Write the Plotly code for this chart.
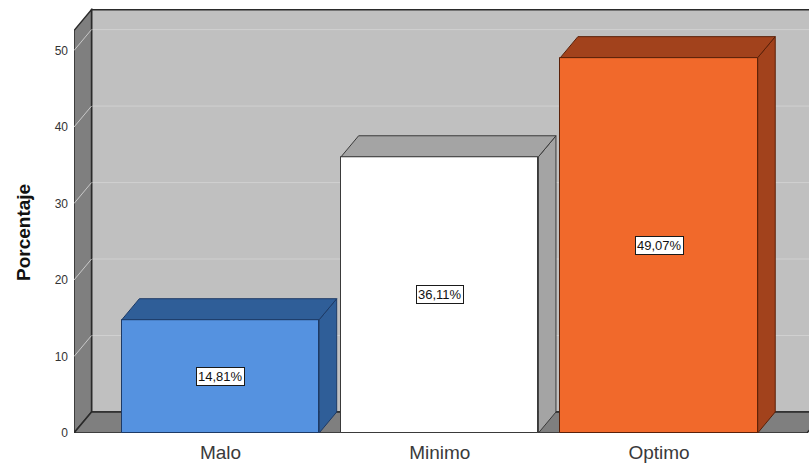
import plotly.graph_objects as go

# ---- data ----
categories = ["Malo", "Minimo", "Optimo"]
percentages = [14.81, 36.11, 49.07]
label_texts = ["14,81%", "36,11%", "49,07%"]
y_ticks = [0, 10, 20, 30, 40, 50]
y_title = "Porcentaje"

# ---- styles ----
front_colors = ["#5592e0", "#ffffff", "#f1692b"]
side_colors = ["#2f5e98", "#a4a4a4", "#a2421c"]
edge_colors = ["#1d3a66", "#3a3a3a", "#5a2008"]
wall_back = "#c0c0c0"
wall_side = "#7f7f7f"
grid_back = "#d0d0d0"
grid_side = "#c9c9c9"
outline = "#2a2a2a"
FONT = "Liberation Sans, Arial, sans-serif"

# ---- 3D geometry (data units) ----
X_RANGE = [-0.668, 2.684]
Y_RANGE = [0, 55.56]
BAR_W = 0.9
DX = 0.08
DY = 2.745
WALL_TOP = 52.6
FLOOR_RIGHT = 2.675

xpos = list(range(len(categories)))
xmin = X_RANGE[0]
xfar = X_RANGE[1] + 1.0

shapes = []
# back wall
shapes.append(dict(type="rect", xref="x", yref="y", x0=xmin + DX, x1=xfar, y0=DY, y1=WALL_TOP + DY,
                   fillcolor=wall_back, line=dict(color=outline, width=1.5), layer="below"))
# back wall gridlines
for v in y_ticks[1:]:
    shapes.append(dict(type="line", xref="x", yref="y", x0=xmin + DX, x1=xfar, y0=v + DY, y1=v + DY,
                       line=dict(color=grid_back, width=1), layer="below"))
# left wall
shapes.append(dict(type="path", xref="x", yref="y",
                   path=f"M {xmin},0 L {xmin},{WALL_TOP} L {xmin + DX},{WALL_TOP + DY} L {xmin + DX},{DY} Z",
                   fillcolor=wall_side, line=dict(color=outline, width=1.5), layer="below"))
# left wall gridlines
for v in y_ticks[1:]:
    shapes.append(dict(type="line", xref="x", yref="y", x0=xmin, x1=xmin + DX, y0=v, y1=v + DY,
                       line=dict(color=grid_side, width=1), layer="below"))
# floor
shapes.append(dict(type="path", xref="x", yref="y",
                   path=f"M {xmin},0 L {xmin + DX},{DY} L {xfar},{DY} L {FLOOR_RIGHT + DX},{DY} L {FLOOR_RIGHT},0 Z",
                   fillcolor=wall_side, line=dict(color=outline, width=1.5), layer="below"))

fig = go.Figure()

# side and top faces of bars
for i, v in enumerate(percentages):
    x0 = xpos[i] - BAR_W / 2
    x1 = xpos[i] + BAR_W / 2
    # side
    fig.add_trace(go.Scatter(
        x=[x1, x1, x1 + DX, x1 + DX, x1], y=[0, v, v + DY, DY, 0],
        mode="lines", fill="toself", fillcolor=side_colors[i],
        line=dict(color=edge_colors[i], width=1), hoverinfo="skip", showlegend=False))
    # top
    fig.add_trace(go.Scatter(
        x=[x0, x0 + DX, x1 + DX, x1, x0], y=[v, v + DY, v + DY, v, v],
        mode="lines", fill="toself", fillcolor=side_colors[i],
        line=dict(color=edge_colors[i], width=1), hoverinfo="skip", showlegend=False))

# front faces
fig.add_trace(go.Bar(
    x=xpos, y=percentages, width=BAR_W,
    marker=dict(color=front_colors, line=dict(color=edge_colors, width=1)),
    hoverinfo="skip", showlegend=False))

annotations = []
for i, v in enumerate(percentages):
    annotations.append(dict(x=xpos[i], y=v / 2, xref="x", yref="y", text=label_texts[i],
                            showarrow=False, bgcolor="white", bordercolor="#1a1a1a",
                            borderwidth=1, borderpad=1,
                            font=dict(family=FONT, size=13, color="#111111")))
annotations.append(dict(x=(23 - 74) / 735, y=(433 - 233) / 425, xref="paper", yref="paper",
                        text=f"<b>{y_title}</b>", textangle=-90, showarrow=False,
                        xanchor="center", yanchor="middle",
                        font=dict(family=FONT, size=19, color="#111111")))

fig.update_layout(
    width=809, height=464, autosize=False,
    margin=dict(l=74, r=0, t=8, b=31),
    paper_bgcolor="white", plot_bgcolor="white",
    shapes=shapes, annotations=annotations,
    bargap=0,
    xaxis=dict(range=X_RANGE, tickvals=xpos, ticktext=categories, showgrid=False, zeroline=False,
               showline=False, ticks="", tickfont=dict(family=FONT, size=19, color="#3a3a3a"),
               ticklabelstandoff=6, fixedrange=True),
    yaxis=dict(range=Y_RANGE, tickvals=y_ticks, showgrid=False, zeroline=False, showline=False,
               ticks="", tickfont=dict(family=FONT, size=12, color="#333333"), ticklabelstandoff=5,
               fixedrange=True),
)

fig.write_html("out.html")
